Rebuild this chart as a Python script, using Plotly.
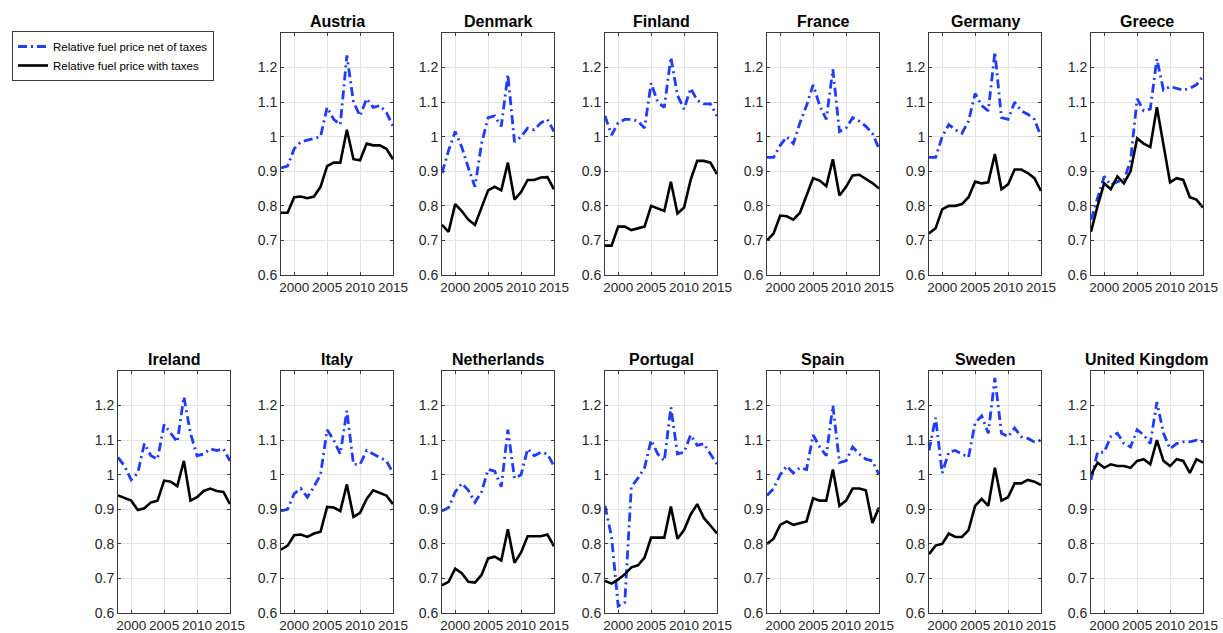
import plotly.graph_objects as go

years = list(range(1998, 2016))

austria_net = [0.91, 0.915, 0.965, 0.985, 0.99, 0.995, 1.0, 1.085, 1.05, 1.035, 1.235, 1.10, 1.06, 1.11, 1.085, 1.09, 1.07, 1.03]
austria_tax = [0.78, 0.78, 0.825, 0.827, 0.822, 0.827, 0.855, 0.915, 0.925, 0.925, 1.02, 0.935, 0.932, 0.98, 0.975, 0.975, 0.965, 0.935]
denmark_net = [0.895, 0.96, 1.015, 0.97, 0.91, 0.855, 0.98, 1.055, 1.06, 1.03, 1.18, 0.985, 1.0, 1.025, 1.02, 1.04, 1.05, 1.015]
denmark_tax = [0.745, 0.725, 0.805, 0.785, 0.76, 0.745, 0.795, 0.845, 0.855, 0.845, 0.925, 0.818, 0.84, 0.875, 0.875, 0.882, 0.883, 0.848]
finland_net = [1.06, 1.005, 1.04, 1.05, 1.05, 1.045, 1.025, 1.155, 1.10, 1.085, 1.23, 1.12, 1.08, 1.14, 1.105, 1.095, 1.095, 1.06]
finland_tax = [0.685, 0.685, 0.74, 0.74, 0.73, 0.735, 0.74, 0.80, 0.793, 0.785, 0.87, 0.778, 0.795, 0.875, 0.93, 0.93, 0.925, 0.892]
france_net = [0.94, 0.94, 0.975, 1.0, 0.98, 1.04, 1.09, 1.15, 1.09, 1.05, 1.195, 1.015, 1.025, 1.055, 1.045, 1.03, 1.01, 0.965]
france_tax = [0.70, 0.72, 0.772, 0.77, 0.76, 0.78, 0.83, 0.88, 0.873, 0.857, 0.935, 0.83, 0.855, 0.888, 0.89, 0.878, 0.866, 0.85]
germany_net = [0.94, 0.94, 1.0, 1.035, 1.02, 1.01, 1.045, 1.125, 1.09, 1.075, 1.245, 1.055, 1.05, 1.10, 1.075, 1.065, 1.05, 1.0]
germany_tax = [0.72, 0.735, 0.79, 0.80, 0.80, 0.805, 0.825, 0.87, 0.865, 0.868, 0.95, 0.848, 0.862, 0.905, 0.905, 0.895, 0.88, 0.843]
greece_net = [0.76, 0.82, 0.885, 0.86, 0.87, 0.875, 0.93, 1.11, 1.075, 1.08, 1.225, 1.135, 1.145, 1.14, 1.135, 1.14, 1.15, 1.175]
greece_tax = [0.725, 0.80, 0.865, 0.848, 0.885, 0.865, 0.90, 0.995, 0.98, 0.97, 1.085, 0.975, 0.868, 0.88, 0.875, 0.825, 0.818, 0.795]
ireland_net = [1.05, 1.025, 0.985, 1.005, 1.09, 1.055, 1.045, 1.145, 1.12, 1.095, 1.225, 1.12, 1.055, 1.06, 1.075, 1.07, 1.075, 1.04]
ireland_tax = [0.94, 0.932, 0.925, 0.898, 0.903, 0.92, 0.925, 0.983, 0.98, 0.967, 1.04, 0.925, 0.935, 0.953, 0.96, 0.953, 0.95, 0.915]
italy_net = [0.895, 0.90, 0.945, 0.96, 0.935, 0.965, 1.0, 1.13, 1.10, 1.06, 1.185, 1.03, 1.03, 1.07, 1.06, 1.05, 1.04, 1.005]
italy_tax = [0.783, 0.795, 0.825, 0.827, 0.82, 0.83, 0.835, 0.907, 0.905, 0.895, 0.972, 0.878, 0.89, 0.93, 0.955, 0.948, 0.94, 0.915]
netherlands_net = [0.895, 0.905, 0.95, 0.975, 0.955, 0.92, 0.95, 1.015, 1.01, 0.965, 1.13, 0.99, 1.0, 1.075, 1.055, 1.065, 1.06, 1.025]
netherlands_tax = [0.68, 0.69, 0.728, 0.715, 0.69, 0.688, 0.71, 0.758, 0.763, 0.752, 0.842, 0.745, 0.775, 0.822, 0.822, 0.822, 0.827, 0.793]
portugal_net = [0.91, 0.82, 0.62, 0.63, 0.965, 0.99, 1.02, 1.10, 1.06, 1.04, 1.195, 1.06, 1.065, 1.115, 1.085, 1.09, 1.06, 1.03]
portugal_tax = [0.693, 0.685, 0.697, 0.712, 0.732, 0.738, 0.76, 0.818, 0.818, 0.818, 0.908, 0.815, 0.84, 0.885, 0.915, 0.875, 0.853, 0.83]
spain_net = [0.94, 0.96, 1.0, 1.025, 1.005, 1.02, 1.015, 1.115, 1.08, 1.055, 1.2, 1.035, 1.04, 1.08, 1.06, 1.045, 1.04, 1.0]
spain_tax = [0.80, 0.815, 0.855, 0.865, 0.855, 0.86, 0.865, 0.932, 0.925, 0.925, 1.015, 0.91, 0.925, 0.96, 0.96, 0.955, 0.86, 0.905]
sweden_net = [1.07, 1.165, 1.005, 1.065, 1.07, 1.06, 1.05, 1.15, 1.17, 1.12, 1.28, 1.12, 1.11, 1.135, 1.11, 1.105, 1.095, 1.10]
sweden_tax = [0.77, 0.795, 0.80, 0.83, 0.82, 0.82, 0.84, 0.91, 0.93, 0.91, 1.02, 0.925, 0.935, 0.975, 0.975, 0.985, 0.98, 0.97]
uk_net = [0.985, 1.065, 1.065, 1.11, 1.12, 1.09, 1.08, 1.13, 1.115, 1.09, 1.21, 1.12, 1.075, 1.09, 1.095, 1.095, 1.10, 1.095]
uk_tax = [1.0, 1.035, 1.02, 1.03, 1.025, 1.025, 1.02, 1.04, 1.045, 1.03, 1.10, 1.04, 1.025, 1.045, 1.04, 1.005, 1.045, 1.035]

countries = ["Austria", "Denmark", "Finland", "France", "Germany", "Greece",
             "Ireland", "Italy", "Netherlands", "Portugal", "Spain", "Sweden", "United Kingdom"]
net_series = [austria_net, denmark_net, finland_net, france_net, germany_net, greece_net,
              ireland_net, italy_net, netherlands_net, portugal_net, spain_net, sweden_net, uk_net]
tax_series = [austria_tax, denmark_tax, finland_tax, france_tax, germany_tax, greece_tax,
              ireland_tax, italy_tax, netherlands_tax, portugal_tax, spain_tax, sweden_tax, uk_tax]
cells = [(0, 1), (0, 2), (0, 3), (0, 4), (0, 5), (0, 6),
         (1, 0), (1, 1), (1, 2), (1, 3), (1, 4), (1, 5), (1, 6)]

x_ticks = [2000, 2005, 2010, 2015]
y_ticks = [0.6, 0.7, 0.8, 0.9, 1.0, 1.1, 1.2]
y_ticktext = ["0.6", "0.7", "0.8", "0.9", "1", "1.1", "1.2"]

W, H = 1223, 633
col_left = [118, 281, 442, 605, 767, 929, 1091]
plot_w = 112
row_top = [33, 371]
plot_h = 242

FONT = "Liberation Sans, Arial, sans-serif"
BLUE = "#1e3cfa"

fig = go.Figure()
layout = {}
annotations = []
for i, (name, net, tax, (r, c)) in enumerate(zip(countries, net_series, tax_series, cells)):
    k = i + 1
    xa = "x" if k == 1 else f"x{k}"
    ya = "y" if k == 1 else f"y{k}"
    fig.add_trace(go.Scatter(x=years, y=net, mode="lines", xaxis=xa, yaxis=ya,
                             name="Relative fuel price net of taxes", showlegend=(i == 0),
                             line=dict(color=BLUE, width=2.8, dash="9px,4px,2px,4px")))
    fig.add_trace(go.Scatter(x=years, y=tax, mode="lines", xaxis=xa, yaxis=ya,
                             name="Relative fuel price with taxes", showlegend=(i == 0),
                             line=dict(color="black", width=2.6)))
    x0 = col_left[c] / W
    x1 = (col_left[c] + plot_w) / W
    y1 = 1 - row_top[r] / H
    y0 = 1 - (row_top[r] + plot_h) / H
    axcommon = dict(showgrid=True, gridcolor="#e3e3e3", gridwidth=1, showline=True,
                    linecolor="#3a3a3a", linewidth=1, mirror="allticks", ticks="inside",
                    ticklen=3, tickcolor="#3a3a3a", zeroline=False, automargin=False,
                    tickangle=0)
    layout["xaxis" if k == 1 else f"xaxis{k}"] = dict(
        domain=[x0, x1], range=[1998, 2015], anchor=ya, tickvals=x_ticks,
        ticktext=[str(t) for t in x_ticks],
        tickfont=dict(family=FONT, size=13.5, color="#262626"), **axcommon)
    layout["yaxis" if k == 1 else f"yaxis{k}"] = dict(
        domain=[y0, y1], range=[0.6, 1.3], anchor=xa, tickvals=y_ticks,
        ticktext=y_ticktext,
        tickfont=dict(family=FONT, size=14, color="#262626"), **axcommon)
    annotations.append(dict(text=f"<b>{name}</b>", xref="paper", yref="paper",
                            x=(x0 + x1) / 2, y=y1 + 12 / H, xanchor="center", yanchor="middle",
                            showarrow=False, font=dict(family=FONT, size=16, color="black")))

fig.update_layout(**layout)
fig.update_layout(
    width=W, height=H, margin=dict(l=0, r=0, t=0, b=0),
    paper_bgcolor="white", plot_bgcolor="white",
    annotations=annotations,
    legend=dict(x=12 / W, y=1 - 31 / H, xanchor="left", yanchor="top",
                bgcolor="white", bordercolor="#3a3a3a", borderwidth=1,
                font=dict(family=FONT, size=11.5, color="black"),
                tracegroupgap=0, itemwidth=30),
    font=dict(family=FONT),
)
fig.write_html("out.html", config={"displayModeBar": False},
               post_script="document.body.style.margin='0';document.body.style.overflow='hidden';")
